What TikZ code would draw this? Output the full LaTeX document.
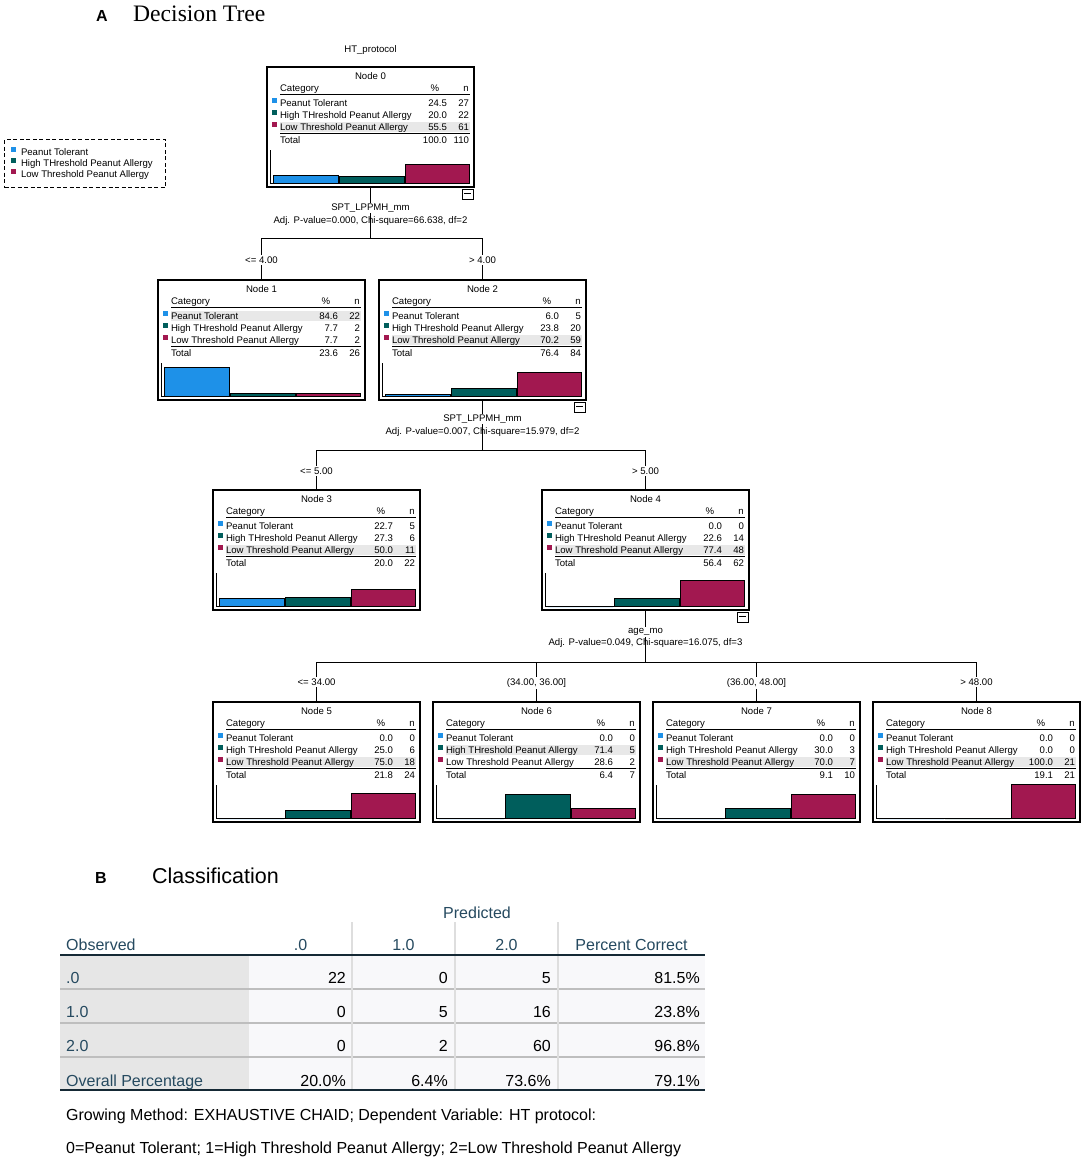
\documentclass[tikz,border=0pt]{standalone}
\usepackage{fontspec}
\setmainfont{Liberation Sans}
\newfontfamily\serifA{Liberation Serif}
\definecolor{ptc}{RGB}{30,145,232}
\definecolor{htc}{RGB}{0,94,92}
\definecolor{ltc}{RGB}{162,24,80}
\definecolor{hlc}{RGB}{232,232,232}
\definecolor{navy}{RGB}{38,74,96}
\definecolor{rowsep}{RGB}{190,190,190}
\definecolor{colsep}{RGB}{222,222,222}
\definecolor{lcol}{RGB}{230,230,230}
\definecolor{dcol}{RGB}{248,248,250}
\definecolor{hline}{RGB}{21,41,53}
\tikzset{
 ttxt/.style={font=\fontsize{9.6}{11}\selectfont, inner sep=0pt, outer sep=0pt},
 tbox/.style={draw, line width=1.5pt, minimum width=207pt, minimum height=120pt, anchor=north west, inner sep=0pt, outer sep=0pt},
 conn/.style={line width=1pt},
 vlab/.style={ttxt, fill=white, inner sep=1pt},
 alab/.style={ttxt},
 blab/.style={ttxt, fill=white, inner sep=1.5pt},
 bar/.style={draw=black, line width=0.9pt},
 minusbox/.style={draw, line width=0.8pt, minimum width=11pt, minimum height=10pt, inner sep=0pt, anchor=north east,
   path picture={\draw[line width=1pt] ([xshift=2.2pt]path picture bounding box.west) -- ([xshift=-2.2pt]path picture bounding box.east);}},
 tab/.style={font=\fontsize{16}{19}\selectfont, inner sep=0pt},
 leg/.style={ttxt, anchor=base west},
}
\def\setdata#1/#2/#3/#4/#5/#6/#7/#8\relax{\def\pA{#1}\def\nA{#2}\def\pB{#3}\def\nB{#4}\def\pC{#5}\def\nC{#6}\def\pT{#7}\def\nT{#8}}
\newcommand\tnode[6]{%
 \setdata#6\relax
 \node[tbox] (#1) at (#2,#3) {};
 \begin{scope}[shift={(#2,#3)}]
  \fill[hlc] (13,{19+12*#5}) rectangle (203,{29+12*#5});
  \node[ttxt, anchor=base] (#1-t) at (103.5,12.5) {#4};
  \node[ttxt, anchor=base west] (#1-c) at (13,24.5) {Category};
  \node[ttxt, anchor=base] (#1-ph) at (168,24.5) {\%};
  \node[ttxt, anchor=base] (#1-nh) at (199,24.5) {n};
  \draw[line width=1pt] (13,27.5) -- (203,27.5);
  \fill[ptc] (5,31) rectangle (10,36);
  \fill[htc] (5,43) rectangle (10,48);
  \fill[ltc] (5,55) rectangle (10,60);
  \node[ttxt, anchor=base west] (#1-r1) at (13,39.5) {Peanut Tolerant};
  \node[ttxt, anchor=base west] (#1-r2) at (13,51.5) {High THreshold Peanut Allergy};
  \node[ttxt, anchor=base west] (#1-r3) at (13,63.5) {Low Threshold Peanut Allergy};
  \node[ttxt, anchor=base east] (#1-p1) at (180,39.5) {\pA};
  \node[ttxt, anchor=base east] (#1-p2) at (180,51.5) {\pB};
  \node[ttxt, anchor=base east] (#1-p3) at (180,63.5) {\pC};
  \node[ttxt, anchor=base east] (#1-n1) at (202,39.5) {\nA};
  \node[ttxt, anchor=base east] (#1-n2) at (202,51.5) {\nB};
  \node[ttxt, anchor=base east] (#1-n3) at (202,63.5) {\nC};
  \draw[line width=1pt] (13,66.5) -- (203,66.5);
  \node[ttxt, anchor=base west] (#1-tt) at (13,76.5) {Total};
  \node[ttxt, anchor=base east] (#1-pt) at (180,76.5) {\pT};
  \node[ttxt, anchor=base east] (#1-nt) at (202,76.5) {\nT};
  \filldraw[bar, fill=ptc] (6,116.5) rectangle (71,{116.5-0.34*\pA});
  \filldraw[bar, fill=htc] (72,116.5) rectangle (137,{116.5-0.34*\pB});
  \filldraw[bar, fill=ltc] (138,116.5) rectangle (202,{116.5-0.34*\pC});
  \draw[line width=1pt] (3.5,83) -- (3.5,117.3);
  \draw[line width=1.2pt] (3,116.8) -- (203,116.8);
 \end{scope}}
\begin{document}
\begin{tikzpicture}[x=1pt,y=-1pt]
\fill[white] (0,0) rectangle (1084,1159);
\useasboundingbox (0,0) rectangle (1084,1159);

% titles
\node[anchor=base west, font=\bfseries\fontsize{16}{19}\selectfont, inner sep=0] (tA) at (96,21) {A};
\node[anchor=base west, font=\serifA\fontsize{23.6}{28}\selectfont, inner sep=0] (tDT) at (133,21) {Decision Tree};
\node[ttxt, anchor=base] (ht) at (370.5,52.5) {HT\_protocol};

% legend
\node[draw, dash pattern=on 4pt off 2.5pt, line width=1pt, anchor=north west, minimum width=161pt, minimum height=48pt, inner sep=0] (legend) at (4,139) {};
\fill[ptc] (11,147) rectangle (16,152);
\fill[htc] (11,158) rectangle (16,163);
\fill[ltc] (11,169) rectangle (16,174);
\node[leg] (lg1) at (21,155.5) {Peanut Tolerant};
\node[leg] (lg2) at (21,166.5) {High THreshold Peanut Allergy};
\node[leg] (lg3) at (21,177.5) {Low Threshold Peanut Allergy};

% tree nodes
\tnode{n0}{267}{67}{Node 0}{3}{24.5/27/20.0/22/55.5/61/100.0/110}
\tnode{n1}{158}{280}{Node 1}{1}{84.6/22/7.7/2/7.7/2/23.6/26}
\tnode{n2}{379}{280}{Node 2}{3}{6.0/5/23.8/20/70.2/59/76.4/84}
\tnode{n3}{213}{490}{Node 3}{3}{22.7/5/27.3/6/50.0/11/20.0/22}
\tnode{n4}{542}{490}{Node 4}{3}{0.0/0/22.6/14/77.4/48/56.4/62}
\tnode{n5}{213}{702}{Node 5}{3}{0.0/0/25.0/6/75.0/18/21.8/24}
\tnode{n6}{433}{702}{Node 6}{2}{0.0/0/71.4/5/28.6/2/6.4/7}
\tnode{n7}{653}{702}{Node 7}{3}{0.0/0/30.0/3/70.0/7/9.1/10}
\tnode{n8}{873}{702}{Node 8}{3}{0.0/0/0.0/0/100.0/21/19.1/21}

\node[minusbox] (m0) at ([xshift=-0.5pt,yshift=-1.5pt]n0.south east) {};
\node[minusbox] (m2) at ([xshift=-0.5pt,yshift=-1.5pt]n2.south east) {};
\node[minusbox] (m4) at ([xshift=-0.5pt,yshift=-1.5pt]n4.south east) {};

% connectors
\coordinate (hz0) at (0,238);
\coordinate (hz2) at (0,450);
\coordinate (hz4) at (0,662);
\draw[conn] (n0.south) -- (n0.south |- hz0);
\draw[conn] (n1.north) -- (n1.north |- hz0) -- (n2.north |- hz0) -- (n2.north);
\draw[conn] (n2.south) -- (n2.south |- hz2);
\draw[conn] (n3.north) -- (n3.north |- hz2) -- (n4.north |- hz2) -- (n4.north);
\draw[conn] (n4.south) -- (n4.south |- hz4);
\draw[conn] (n5.north) -- (n5.north |- hz4) -- (n8.north |- hz4) -- (n8.north);
\draw[conn] (n6.north) -- (n6.north |- hz4);
\draw[conn] (n7.north) -- (n7.north |- hz4);

% split labels
\node[vlab, anchor=base] (v0) at (370.5,210.5) {SPT\_LPPMH\_mm};
\node[alab, anchor=base] (a0) at (370.5,223.5) {Adj. P-value=0.000, Chi-square=66.638, df=2};
\node[blab, anchor=base] (b1) at (261.5,263.5) {<= 4.00};
\node[blab, anchor=base] (b2) at (482.5,263.5) {> 4.00};
\node[vlab, anchor=base] (v2) at (482.5,421.5) {SPT\_LPPMH\_mm};
\node[alab, anchor=base] (a2) at (482.5,434.5) {Adj. P-value=0.007, Chi-square=15.979, df=2};
\node[blab, anchor=base] (b3) at (316.5,474.5) {<= 5.00};
\node[blab, anchor=base] (b4) at (645.5,474.5) {> 5.00};
\node[vlab, anchor=base] (v4) at (645.5,633.5) {age\_mo};
\node[alab, anchor=base] (a4) at (645.5,645.5) {Adj. P-value=0.049, Chi-square=16.075, df=3};
\node[blab, anchor=base] (b5) at (316.5,685.5) {<= 34.00};
\node[blab, anchor=base] (b6) at (536.5,685.5) {(34.00, 36.00]};
\node[blab, anchor=base] (b7) at (756.5,685.5) {(36.00, 48.00]};
\node[blab, anchor=base] (b8) at (976.5,685.5) {> 48.00};

% ---------- B: classification table ----------
\node[anchor=base west, font=\bfseries\fontsize{16}{19}\selectfont, inner sep=0] (tB) at (95,883) {B};
\node[anchor=base west, font=\fontsize{21.5}{26}\selectfont, inner sep=0] (tC) at (152,883) {Classification};

\fill[lcol] (60,956) rectangle (249,1090);
\fill[dcol] (249,956) rectangle (705,1090);
\foreach \yy in {988.5,1022.5,1056.5}{\draw[rowsep, line width=2pt] (60,\yy) -- (705,\yy);}
\foreach \xx in {352,455,558}{\draw[colsep, line width=1.5pt] (\xx,922) -- (\xx,1089);}
\draw[hline, line width=2pt] (60,955) -- (705,955);
\draw[hline, line width=2pt] (60,1090) -- (705,1090);

\node[tab, navy, anchor=base] (pred) at (477,918) {Predicted};
\node[tab, navy, anchor=base west] (obs) at (66,950) {Observed};
\node[tab, navy, anchor=base] (th1) at (300.5,950) {.0};
\node[tab, navy, anchor=base] (th2) at (403.5,950) {1.0};
\node[tab, navy, anchor=base] (th3) at (506.5,950) {2.0};
\node[tab, navy, anchor=base] (th4) at (631.5,950) {Percent Correct};

\node[tab, navy, anchor=base west] (rl1) at (66,983) {.0};
\node[tab, navy, anchor=base west] (rl2) at (66,1017) {1.0};
\node[tab, navy, anchor=base west] (rl3) at (66,1051) {2.0};
\node[tab, navy, anchor=base west] (rl4) at (66,1086) {Overall Percentage};

\foreach \r/\yy/\a/\b/\c/\d in {1/983/22/0/5/81.5\%, 2/1017/0/5/16/23.8\%, 3/1051/0/2/60/96.8\%, 4/1086/20.0\%/6.4\%/73.6\%/79.1\%}{
  \node[tab, anchor=base east] (c\r-1) at (346,\yy) {\a};
  \node[tab, anchor=base east] (c\r-2) at (448,\yy) {\b};
  \node[tab, anchor=base east] (c\r-3) at (551,\yy) {\c};
  \node[tab, anchor=base east] (c\r-4) at (700,\yy) {\d};
}

\node[tab, anchor=base west] (fn1) at (66,1120) {Growing Method: EXHAUSTIVE CHAID; Dependent Variable: HT protocol:};
\node[tab, anchor=base west] (fn2) at (66,1153) {0=Peanut Tolerant; 1=High Threshold Peanut Allergy; 2=Low Threshold Peanut Allergy};
\end{tikzpicture}
\end{document}
